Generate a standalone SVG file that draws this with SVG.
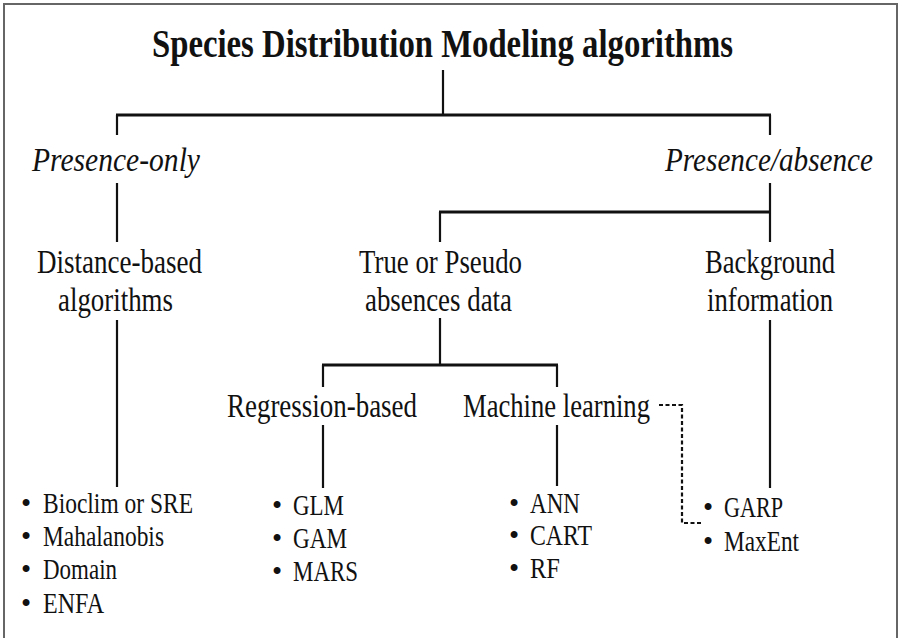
<svg xmlns="http://www.w3.org/2000/svg" width="900" height="638" viewBox="0 0 900 638">
<style>
.t{font-family:"Liberation Serif","Tinos","DejaVu Serif","Noto Serif",Times,serif;fill:#111;}
.title{font-size:40px;font-weight:bold;}
.lvl{font-size:34px;}
.it{font-size:34px;font-style:italic;}
.item{font-size:29px;}
.bul{font-size:29px;}
.ln{stroke:#111;stroke-width:2.2;fill:none;}
.hl{stroke:#111;stroke-width:3;fill:none;}
.dot{stroke:#111;stroke-width:2.2;fill:none;stroke-dasharray:4 2.5;}
</style>
<rect x="4" y="4" width="893" height="645" fill="#fff" stroke="#666" stroke-width="2"/>
<g id="connectors">
<line class="ln" x1="443" y1="70" x2="443" y2="115"/>
<line class="hl" x1="116" y1="115" x2="771" y2="115"/>
<line class="ln" x1="117" y1="115" x2="117" y2="135"/>
<line class="ln" x1="770" y1="115" x2="770" y2="135"/>
<line class="ln" x1="117" y1="183" x2="117" y2="242"/>
<line class="ln" x1="770" y1="183" x2="770" y2="242"/>
<line class="hl" x1="439" y1="212" x2="771" y2="212"/>
<line class="ln" x1="440" y1="212" x2="440" y2="242"/>
<line class="ln" x1="117" y1="320" x2="117" y2="487"/>
<line class="ln" x1="440" y1="318" x2="440" y2="365"/>
<line class="ln" x1="770" y1="320" x2="770" y2="488"/>
<line class="hl" x1="322" y1="365" x2="558" y2="365"/>
<line class="ln" x1="323" y1="365" x2="323" y2="387"/>
<line class="ln" x1="557" y1="365" x2="557" y2="387"/>
<line class="ln" x1="323" y1="425" x2="323" y2="488"/>
<line class="ln" x1="557" y1="425" x2="557" y2="486"/>
<path class="dot" d="M659,405 H682 V523 H701"/>
</g>
<g id="title"><text class="t title" x="152" y="57" textLength="581" lengthAdjust="spacingAndGlyphs">Species Distribution Modeling algorithms</text></g>
<g id="presence-only"><text class="t it" x="32" y="171" textLength="168" lengthAdjust="spacingAndGlyphs">Presence-only</text></g>
<g id="presence-absence"><text class="t it" x="665" y="171" textLength="208" lengthAdjust="spacingAndGlyphs">Presence/absence</text></g>
<g id="distance-based">
<text class="t lvl" x="37" y="273" textLength="165" lengthAdjust="spacingAndGlyphs">Distance-based</text>
<text class="t lvl" x="58" y="311" textLength="115" lengthAdjust="spacingAndGlyphs">algorithms</text>
</g>
<g id="true-pseudo">
<text class="t lvl" x="359" y="273" textLength="163" lengthAdjust="spacingAndGlyphs">True or Pseudo</text>
<text class="t lvl" x="365" y="311" textLength="147" lengthAdjust="spacingAndGlyphs">absences data</text>
</g>
<g id="background">
<text class="t lvl" x="705" y="273" textLength="130" lengthAdjust="spacingAndGlyphs">Background</text>
<text class="t lvl" x="707" y="311" textLength="126" lengthAdjust="spacingAndGlyphs">information</text>
</g>
<g id="regression"><text class="t lvl" x="227" y="417" textLength="190" lengthAdjust="spacingAndGlyphs">Regression-based</text></g>
<g id="machine-learning"><text class="t lvl" x="463" y="417" textLength="187" lengthAdjust="spacingAndGlyphs">Machine learning</text></g>
<g id="distance-list">
<text class="t bul" x="21" y="513">•</text><text class="t item" x="43" y="513" textLength="150" lengthAdjust="spacingAndGlyphs">Bioclim or SRE</text>
<text class="t bul" x="21" y="546">•</text><text class="t item" x="43" y="546" textLength="121" lengthAdjust="spacingAndGlyphs">Mahalanobis</text>
<text class="t bul" x="21" y="579">•</text><text class="t item" x="43" y="579" textLength="74" lengthAdjust="spacingAndGlyphs">Domain</text>
<text class="t bul" x="21" y="613">•</text><text class="t item" x="43" y="613" textLength="61" lengthAdjust="spacingAndGlyphs">ENFA</text>
</g>
<g id="regression-list">
<text class="t bul" x="272" y="515">•</text><text class="t item" x="293" y="515" textLength="51" lengthAdjust="spacingAndGlyphs">GLM</text>
<text class="t bul" x="272" y="548">•</text><text class="t item" x="293" y="548" textLength="54" lengthAdjust="spacingAndGlyphs">GAM</text>
<text class="t bul" x="272" y="581">•</text><text class="t item" x="293" y="581" textLength="65" lengthAdjust="spacingAndGlyphs">MARS</text>
</g>
<g id="ml-list">
<text class="t bul" x="509" y="513">•</text><text class="t item" x="530" y="513" textLength="50" lengthAdjust="spacingAndGlyphs">ANN</text>
<text class="t bul" x="509" y="545">•</text><text class="t item" x="530" y="545" textLength="62" lengthAdjust="spacingAndGlyphs">CART</text>
<text class="t bul" x="509" y="578">•</text><text class="t item" x="530" y="578" textLength="30" lengthAdjust="spacingAndGlyphs">RF</text>
</g>
<g id="background-list">
<text class="t bul" x="703" y="517">•</text><text class="t item" x="724" y="517" textLength="59" lengthAdjust="spacingAndGlyphs">GARP</text>
<text class="t bul" x="703" y="551">•</text><text class="t item" x="724" y="551" textLength="75" lengthAdjust="spacingAndGlyphs">MaxEnt</text>
</g>
</svg>
